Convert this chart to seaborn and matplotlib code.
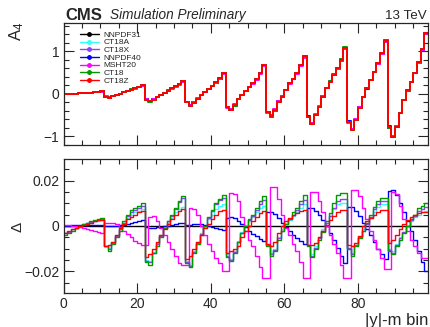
import numpy as np
import pandas as pd
import seaborn as sns
import matplotlib
matplotlib.use('Agg')
import matplotlib.pyplot as plt
from matplotlib.lines import Line2D
from matplotlib.ticker import MultipleLocator

# ---------------------------------------------------------------------------
# Data: 9 |y| bins x 11 mass bins = 99 bins
# ---------------------------------------------------------------------------
N_BINS = 99
PDF_NAMES = ['NNPDF31', 'CT18A', 'CT18X', 'NNPDF40', 'MSHT20', 'CT18', 'CT18Z']
PDF_COLORS = ['#000000', '#33ffff', '#9040ff', '#0000ff', '#ff00ff', '#009a00', '#ff0000']

# A4 for the reference PDF (NNPDF31)
a4_nnpdf31 = [
    0.00, 0.00, 0.01, 0.01, 0.02, 0.02, 0.03, 0.03, 0.04, 0.05, 0.06,
    -0.06, -0.08, -0.05, -0.02, 0.01, 0.04, 0.07, 0.10, 0.13, 0.16, 0.20,
    -0.12, -0.16, -0.12, -0.07, -0.02, 0.03, 0.08, 0.13, 0.18, 0.23, 0.30,
    -0.18, -0.26, -0.20, -0.11, -0.03, 0.05, 0.12, 0.19, 0.27, 0.36, 0.49,
    -0.30, -0.36, -0.26, -0.12, -0.02, 0.08, 0.16, 0.25, 0.35, 0.49, 0.67,
    -0.42, -0.52, -0.38, -0.18, -0.06, 0.09, 0.25, 0.35, 0.49, 0.68, 0.88,
    -0.53, -0.69, -0.49, -0.30, -0.06, 0.13, 0.29, 0.45, 0.60, 0.80, 1.08,
    -0.65, -0.83, -0.61, -0.32, -0.08, 0.13, 0.33, 0.52, 0.72, 0.96, 1.25,
    -0.78, -1.01, -0.77, -0.45, -0.15, 0.08, 0.28, 0.50, 0.75, 1.05, 1.42,
]

# Differences with respect to NNPDF31
delta_nnpdf31 = [0.0] * N_BINS

delta_ct18a = [
    -0.0030, -0.0025, -0.0015, -0.0008, 0.0000, 0.0008, 0.0012, 0.0015, 0.0020, 0.0020, 0.0025,
    -0.0090, -0.0095, -0.0070, -0.0040, -0.0010, 0.0015, 0.0035, 0.0050, 0.0060, 0.0065, 0.0075,
    -0.0150, -0.0155, -0.0115, -0.0075, -0.0040, -0.0010, 0.0015, 0.0035, 0.0060, 0.0075, 0.0085,
    -0.0155, -0.0170, -0.0110, -0.0070, -0.0030, 0.0000, 0.0030, 0.0050, 0.0075, 0.0090, 0.0095,
    -0.0125, -0.0145, -0.0110, -0.0065, -0.0025, 0.0000, 0.0020, 0.0040, 0.0060, 0.0080, 0.0090,
    -0.0085, -0.0120, -0.0100, -0.0050, -0.0015, 0.0010, 0.0025, 0.0045, 0.0060, 0.0080, 0.0095,
    -0.0085, -0.0125, -0.0090, -0.0050, -0.0015, 0.0015, 0.0045, 0.0075, 0.0095, 0.0100, 0.0100,
    -0.0095, -0.0120, -0.0085, -0.0050, -0.0015, 0.0010, 0.0035, 0.0060, 0.0085, 0.0095, 0.0095,
    -0.0100, -0.0110, -0.0080, -0.0050, -0.0025, 0.0000, 0.0020, 0.0040, 0.0050, 0.0060, 0.0065,
]

delta_ct18x = [
    -0.0030, -0.0025, -0.0015, -0.0010, 0.0000, 0.0008, 0.0012, 0.0018, 0.0020, 0.0025, 0.0030,
    -0.0090, -0.0100, -0.0075, -0.0045, -0.0015, 0.0015, 0.0045, 0.0060, 0.0070, 0.0080, 0.0090,
    -0.0155, -0.0160, -0.0120, -0.0080, -0.0045, -0.0010, 0.0020, 0.0045, 0.0075, 0.0105, 0.0125,
    -0.0160, -0.0175, -0.0115, -0.0075, -0.0035, 0.0000, 0.0035, 0.0065, 0.0095, 0.0115, 0.0125,
    -0.0130, -0.0150, -0.0115, -0.0070, -0.0030, 0.0000, 0.0025, 0.0045, 0.0070, 0.0095, 0.0115,
    -0.0085, -0.0125, -0.0105, -0.0055, -0.0020, 0.0010, 0.0030, 0.0050, 0.0070, 0.0095, 0.0115,
    -0.0085, -0.0130, -0.0095, -0.0055, -0.0020, 0.0015, 0.0045, 0.0080, 0.0110, 0.0120, 0.0120,
    -0.0095, -0.0125, -0.0085, -0.0050, -0.0020, 0.0010, 0.0040, 0.0075, 0.0095, 0.0110, 0.0110,
    -0.0105, -0.0120, -0.0085, -0.0055, -0.0025, 0.0000, 0.0025, 0.0045, 0.0065, 0.0075, 0.0085,
]

delta_nnpdf40 = [
    0.0002, 0.0002, 0.0003, 0.0003, 0.0003, 0.0003, 0.0003, 0.0004, 0.0004, 0.0004, 0.0005,
    0.0000, 0.0000, 0.0000, 0.0001, 0.0003, 0.0006, 0.0010, 0.0014, 0.0018, 0.0022, 0.0026,
    -0.0005, -0.0007, -0.0007, -0.0006, -0.0004, -0.0001, 0.0002, 0.0005, 0.0008, 0.0011, 0.0013,
    0.0003, 0.0005, 0.0007, 0.0008, 0.0007, 0.0005, 0.0002, -0.0003, -0.0008, -0.0013, -0.0018,
    0.0035, 0.0038, 0.0034, 0.0022, 0.0008, -0.0006, -0.0020, -0.0034, -0.0046, -0.0058, -0.0068,
    0.0063, 0.0060, 0.0052, 0.0035, 0.0015, -0.0005, -0.0022, -0.0040, -0.0055, -0.0068, -0.0080,
    0.0080, 0.0078, 0.0068, 0.0050, 0.0025, -0.0002, -0.0030, -0.0060, -0.0095, -0.0130, -0.0165,
    0.0085, 0.0082, 0.0065, 0.0042, 0.0015, -0.0012, -0.0040, -0.0070, -0.0100, -0.0125, -0.0145,
    0.0155, 0.0160, 0.0135, 0.0100, 0.0060, 0.0020, -0.0020, -0.0060, -0.0110, -0.0160, -0.0200,
]

delta_msht20 = [
    0.0003, 0.0003, 0.0002, 0.0000, -0.0003, -0.0008, -0.0013, -0.0018, -0.0023, -0.0027, -0.0030,
    0.0012, 0.0015, 0.0015, 0.0010, -0.0005, -0.0020, -0.0035, -0.0050, -0.0065, -0.0075, -0.0085,
    -0.0085, 0.0040, 0.0045, 0.0020, -0.0010, -0.0040, -0.0070, -0.0100, -0.0130, -0.0165, -0.0170,
    -0.0170, 0.0080, 0.0075, 0.0050, 0.0000, -0.0040, -0.0080, -0.0110, -0.0140, -0.0165, -0.0200,
    -0.0200, 0.0145, 0.0140, 0.0110, 0.0040, -0.0020, -0.0060, -0.0090, -0.0130, -0.0180, -0.0230,
    -0.0230, 0.0170, 0.0170, 0.0120, 0.0050, -0.0010, -0.0040, -0.0080, -0.0110, -0.0160, -0.0230,
    -0.0230, 0.0150, 0.0150, 0.0110, 0.0060, 0.0000, -0.0040, -0.0080, -0.0120, -0.0170, -0.0230,
    -0.0230, 0.0160, 0.0160, 0.0130, 0.0080, 0.0030, -0.0020, -0.0060, -0.0100, -0.0140, -0.0190,
    -0.0190, 0.0150, 0.0140, 0.0090, 0.0030, -0.0020, -0.0060, -0.0090, -0.0120, -0.0140, -0.0140,
]

delta_ct18 = [
    -0.0040, -0.0030, -0.0020, -0.0010, 0.0000, 0.0010, 0.0015, 0.0020, 0.0025, 0.0030, 0.0035,
    -0.0090, -0.0110, -0.0080, -0.0050, -0.0020, 0.0020, 0.0050, 0.0070, 0.0080, 0.0090, 0.0100,
    -0.0160, -0.0170, -0.0120, -0.0090, -0.0050, -0.0010, 0.0020, 0.0050, 0.0080, 0.0110, 0.0130,
    -0.0165, -0.0180, -0.0120, -0.0080, -0.0040, 0.0000, 0.0040, 0.0070, 0.0100, 0.0120, 0.0135,
    -0.0135, -0.0155, -0.0120, -0.0070, -0.0030, 0.0000, 0.0030, 0.0050, 0.0080, 0.0110, 0.0130,
    -0.0090, -0.0130, -0.0110, -0.0060, -0.0020, 0.0010, 0.0030, 0.0060, 0.0080, 0.0110, 0.0135,
    -0.0090, -0.0135, -0.0100, -0.0060, -0.0025, 0.0020, 0.0055, 0.0100, 0.0135, 0.0145, 0.0145,
    -0.0100, -0.0130, -0.0090, -0.0055, -0.0020, 0.0015, 0.0050, 0.0085, 0.0110, 0.0125, 0.0125,
    -0.0110, -0.0125, -0.0090, -0.0060, -0.0030, 0.0000, 0.0030, 0.0050, 0.0080, 0.0090, 0.0100,
]

delta_ct18z = [
    -0.0030, -0.0020, -0.0015, -0.0010, 0.0000, 0.0005, 0.0010, 0.0015, 0.0020, 0.0025, 0.0025,
    -0.0090, -0.0085, -0.0070, -0.0040, -0.0010, 0.0010, 0.0030, 0.0040, 0.0050, 0.0060, 0.0065,
    -0.0135, -0.0125, -0.0100, -0.0070, -0.0040, -0.0015, 0.0010, 0.0030, 0.0050, 0.0065, 0.0075,
    -0.0145, -0.0130, -0.0100, -0.0070, -0.0040, -0.0010, 0.0010, 0.0030, 0.0050, 0.0065, 0.0070,
    -0.0120, -0.0110, -0.0100, -0.0090, -0.0050, -0.0020, 0.0000, 0.0020, 0.0040, 0.0055, 0.0065,
    -0.0080, -0.0090, -0.0070, -0.0030, 0.0000, 0.0020, 0.0035, 0.0050, 0.0055, 0.0065, 0.0070,
    -0.0085, -0.0085, -0.0075, -0.0050, -0.0020, 0.0005, 0.0025, 0.0045, 0.0060, 0.0070, 0.0070,
    -0.0085, -0.0090, -0.0075, -0.0045, 0.0000, 0.0020, 0.0035, 0.0050, 0.0060, 0.0070, 0.0070,
    -0.0075, -0.0060, -0.0040, -0.0015, 0.0010, 0.0025, 0.0040, 0.0050, 0.0055, 0.0060, 0.0060,
]

DELTAS = {
    'NNPDF31': delta_nnpdf31, 'CT18A': delta_ct18a, 'CT18X': delta_ct18x,
    'NNPDF40': delta_nnpdf40, 'MSHT20': delta_msht20, 'CT18': delta_ct18,
    'CT18Z': delta_ct18z,
}

# ---------------------------------------------------------------------------
# Long-form tables (histogram drawn as steps: 99 bins -> 100 edges)
# ---------------------------------------------------------------------------
edges = np.arange(N_BINS + 1)
a4_ref = np.array(a4_nnpdf31)

rows_top, rows_bot = [], []
for name in PDF_NAMES:
    d = np.array(DELTAS[name])
    a4 = a4_ref + d
    a4 = np.append(a4, a4[-1])
    d = np.append(d, d[-1])
    rows_top.append(pd.DataFrame({'bin': edges, 'val': a4, 'pdf': name}))
    rows_bot.append(pd.DataFrame({'bin': edges, 'val': d, 'pdf': name}))
df_top = pd.concat(rows_top, ignore_index=True)
df_bot = pd.concat(rows_bot, ignore_index=True)

palette = dict(zip(PDF_NAMES, PDF_COLORS))

# ---------------------------------------------------------------------------
# Plot
# ---------------------------------------------------------------------------
sns.set_style('ticks')
plt.rcParams['font.family'] = ['Liberation Sans', 'DejaVu Sans']
plt.rcParams['mathtext.default'] = 'regular'

fig = plt.figure(figsize=(4.3, 3.27), dpi=100)
ax_top = fig.add_axes([0.1477, 0.5566, 0.8477, 0.3731])
ax_bot = fig.add_axes([0.1477, 0.104, 0.8477, 0.4098])

sns.lineplot(data=df_top, x='bin', y='val', hue='pdf', hue_order=PDF_NAMES,
             palette=palette, drawstyle='steps-post', estimator=None,
             sort=False, legend=False, lw=1.4, ax=ax_top)
sns.lineplot(data=df_bot, x='bin', y='val', hue='pdf', hue_order=PDF_NAMES,
             palette=palette, drawstyle='steps-post', estimator=None,
             sort=False, legend=False, lw=1.0, ax=ax_bot)

ax_top.set_xlim(0, N_BINS)
ax_bot.set_xlim(0, N_BINS)
ax_top.set_ylim(-1.2, 1.67)
ax_bot.set_ylim(-0.0295, 0.0295)

for ax in (ax_top, ax_bot):
    ax.set_xlabel('')
    ax.set_ylabel('')
    ax.xaxis.set_major_locator(MultipleLocator(20))
    ax.xaxis.set_minor_locator(MultipleLocator(5))
    ax.tick_params(which='both', direction='in', top=True, right=True,
                   labelsize=10, width=0.8, pad=3)
    ax.tick_params(which='major', length=7)
    ax.tick_params(which='minor', length=3.5)
    for sp in ax.spines.values():
        sp.set_linewidth(0.9)
        sp.set_visible(True)

ax_top.yaxis.set_major_locator(MultipleLocator(1))
ax_top.yaxis.set_minor_locator(MultipleLocator(0.2))
ax_top.tick_params(labelbottom=False)
ax_top.set_yticks([-1, 0, 1])
ax_top.set_yticklabels(['\u22121', '0', '1'])

ax_bot.yaxis.set_major_locator(MultipleLocator(0.02))
ax_bot.yaxis.set_minor_locator(MultipleLocator(0.005))
ax_bot.set_yticks([-0.02, 0, 0.02])
ax_bot.set_yticklabels(['\u22120.02', '0', '0.02'])

# Legend (ROOT-style, line + marker)
handles = [Line2D([], [], color=c, lw=1.0, marker='o', markersize=2.5)
           for c in PDF_COLORS]
ax_top.legend(handles, PDF_NAMES, loc='upper left', bbox_to_anchor=(0.045, 0.935),
              frameon=False, fontsize=6.0, handlelength=2.3, handletextpad=0.5,
              labelspacing=-0.02, borderpad=0, borderaxespad=0)

# Axis labels and header
fig.text(17 / 430, 1 - 22 / 327, 'A$_4$', rotation=90, ha='center', va='top',
         fontsize=12)
fig.text(17 / 430, 1 - 227 / 327, '\u0394', rotation=90, ha='center',
         va='center', fontsize=11)
ax_bot.set_xlabel('|y|-m bin', fontsize=12, loc='right', labelpad=1)

fig.text(65 / 430, 1 - 19.5 / 327, 'CMS', fontsize=12, fontweight='bold',
         ha='left', va='baseline')
fig.text(110 / 430, 1 - 19.5 / 327, 'Simulation Preliminary', fontsize=9.8,
         style='italic', ha='left', va='baseline')
fig.text(427 / 430, 1 - 19 / 327, '13 TeV', fontsize=9.6, ha='right',
         va='baseline')

fig.savefig('out.png', dpi=100)
